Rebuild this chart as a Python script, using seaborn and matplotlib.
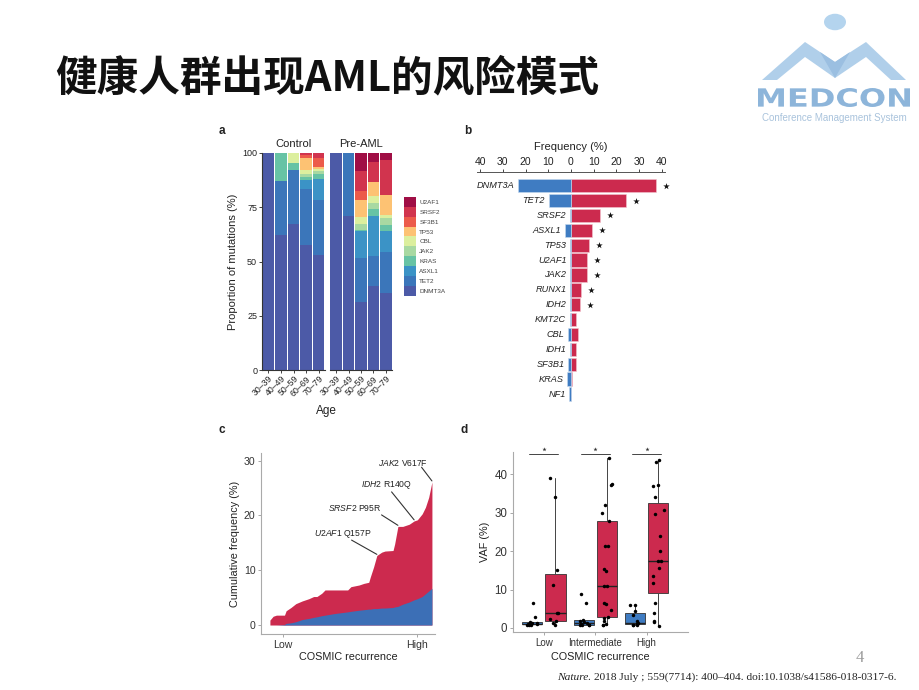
import numpy as np
import pandas as pd
import matplotlib
matplotlib.use('Agg')
import matplotlib.pyplot as plt
import seaborn as sns
from matplotlib.patches import Patch, PathPatch, Polygon, Circle
from matplotlib.textpath import TextPath
from matplotlib.font_manager import FontProperties
from matplotlib.transforms import Affine2D

# ---------------- data ----------------
# a: proportion of mutations by age group (%)
age_groups = ['30–39', '40–49', '50–59', '60–69', '70–79']
genes_a = ['DNMT3A', 'TET2', 'ASXL1', 'KRAS', 'JAK2', 'CBL', 'TP53', 'SF3B1', 'SRSF2', 'U2AF1']
gene_colors = ['#4c5aa7', '#3b76ba', '#3b93c6', '#67c3a5', '#a8d9a2', '#dcef9e',
               '#fdc273', '#ec5b4a', '#d1344e', '#a00e45']

ctrl_DNMT3A = [100, 62, 67.5, 57.5, 53]
ctrl_TET2 = [0, 25, 24.5, 26, 25.5]
ctrl_ASXL1 = [0, 0, 0, 4, 9.5]
ctrl_KRAS = [0, 13, 3.5, 1.5, 2.5]
ctrl_JAK2 = [0, 0, 0, 1.5, 1]
ctrl_CBL = [0, 0, 4.5, 1.5, 1]
ctrl_TP53 = [0, 0, 0, 5.7, 1]
ctrl_SF3B1 = [0, 0, 0, 1.2, 4.2]
ctrl_SRSF2 = [0, 0, 0, 1.1, 2.3]
ctrl_U2AF1 = [0, 0, 0, 0, 0]

pre_DNMT3A = [100, 71, 31.5, 38.5, 35.5]
pre_TET2 = [0, 29, 20, 14, 19]
pre_ASXL1 = [0, 0, 12.5, 18.5, 9.5]
pre_KRAS = [0, 0, 0.5, 3, 3]
pre_JAK2 = [0, 0, 3, 3, 3]
pre_CBL = [0, 0, 3, 3, 1.5]
pre_TP53 = [0, 0, 8, 6.5, 9]
pre_SF3B1 = [0, 0, 4, 0, 0]
pre_SRSF2 = [0, 0, 9, 9.5, 16.5]
pre_U2AF1 = [0, 0, 8.5, 4, 3]

# b: mutation frequency (%)
genes_b = ['DNMT3A', 'TET2', 'SRSF2', 'ASXL1', 'TP53', 'U2AF1', 'JAK2', 'RUNX1',
           'IDH2', 'KMT2C', 'CBL', 'IDH1', 'SF3B1', 'KRAS', 'NF1']
control_freq = [23.1, 9.8, 0.4, 2.7, 0.3, 0.3, 0.5, 0.3, 0.3, 0.5, 1.4, 0.3, 1.3, 1.7, 0.7]
preaml_freq = [37.5, 24.0, 12.7, 9.4, 7.8, 7.1, 7.1, 4.6, 4.0, 2.2, 3.0, 2.2, 2.3, 0.6, 0.0]
significant = [True] * 9 + [False] * 6

# c: cumulative frequency vs COSMIC recurrence rank
cosmic_rank = [0, 2, 4, 9, 10, 13, 16, 20, 24, 27, 29, 32, 34, 40, 48, 50, 55, 58, 61, 62,
               64, 66, 69, 71, 76, 77, 79, 82, 86, 89, 91, 94, 96, 98, 100]
cum_preaml = [0.9, 1.6, 1.8, 1.8, 2.6, 3.2, 3.9, 4.4, 4.8, 5.2, 5.2, 5.8, 6.4, 6.4, 6.4, 7.0,
              7.3, 7.6, 7.8, 8.8, 10.6, 12.7, 13.3, 13.5, 13.6, 14.8, 18.0, 18.0, 18.4, 19.0,
              19.2, 20.3, 21.5, 23.3, 26.1]
cum_control = [0.0, 0.0, 0.0, 0.1, 0.3, 0.4, 0.6, 1.0, 1.2, 1.4, 1.5, 1.7, 1.8, 2.1, 2.4, 2.5,
               2.7, 2.8, 2.9, 2.9, 3.0, 3.0, 3.1, 3.1, 3.2, 3.3, 3.4, 3.8, 4.2, 4.6, 4.8, 5.2,
               5.7, 6.2, 6.7]
# (gene, mutation, index in cosmic_rank, label right x, label y, leader start x, leader start y)
hotspots = [('U2AF1', 'Q157P', 21, 63, 16.7, 50.4, 15.5),
            ('SRSF2', 'P95R', 26, 69, 21.4, 68.9, 20.1),
            ('IDH2', 'R140Q', 29, 87.5, 25.5, 75.1, 24.3),
            ('JAK2', 'V617F', 34, 97, 29.6, 93.6, 28.8)]

# d: VAF (%) by COSMIC recurrence
recurrence = ['Low', 'Intermediate', 'High']
vaf_low_ctrl = [6.5, 2.8, 1.5, 1.3, 1.2, 1.1, 1.0, 0.9, 0.8, 0.7]
vaf_low_case = [38.9, 34.1, 15.1, 11.1, 3.9, 3.9, 2.4, 1.7, 1.2, 0.7]
vaf_int_ctrl = [8.9, 6.5, 2.2, 1.9, 1.5, 1.2, 1.1, 0.9, 0.8, 0.7, 0.7]
vaf_int_case = [44.1, 37.3, 37.1, 32.0, 29.8, 27.8, 21.3, 21.2, 15.3, 14.7, 10.8, 10.8,
                6.5, 6.3, 4.8, 2.9, 2.6, 1.9, 1.1, 0.9, 0.7]
vaf_high_ctrl = [6.0, 6.0, 4.3, 3.5, 1.7, 1.3, 1.1, 1.0, 0.9, 0.8, 0.7]
vaf_high_case = [43.6, 43.2, 37.1, 37.0, 34.0, 30.7, 29.5, 23.9, 19.9, 17.4, 17.3, 15.5,
                 13.4, 11.7, 6.5, 3.9, 1.7, 1.6, 0.6]

BLUE = '#3f7cc2'
RED = '#cc2a4e'
TXT = '#222222'

# ---------------- style ----------------
sns.set_style('white')
plt.rcParams['font.family'] = ['Liberation Sans', 'Noto Sans CJK SC', 'DejaVu Sans']
plt.rcParams['mathtext.fontset'] = 'custom'
plt.rcParams['mathtext.it'] = 'Liberation Sans:italic'
plt.rcParams['mathtext.rm'] = 'Liberation Sans'
np.random.seed(3)

W, H = 920, 690
fig = plt.figure(figsize=(9.2, 6.9), dpi=100)


def px_rect(x0, y0, x1, y1):
    # pixel box (origin top-left) -> figure fraction
    return [x0 / W, 1 - y1 / H, (x1 - x0) / W, (y1 - y0) / H]


def fxy(x, y):
    return x / W, 1 - y / H


# title
fig.text(*fxy(55, 78), '健康人群出现AML的风险模式', fontsize=30, fontweight='bold',
         family=['Noto Sans CJK SC', 'DejaVu Sans'], va='center', ha='left', color='#111111')

# logo (top right)
fig.add_artist(Circle(fxy(835, 22), 11 / W, transform=fig.transFigure,
                      facecolor='#b4d4ee', edgecolor='none'))
m_shape = [(762, 80), (805, 42), (835, 62), (866, 42), (906, 80),
           (891, 80), (866, 57), (835, 78), (805, 57), (777, 80)]
fig.add_artist(Polygon([fxy(x, y) for x, y in m_shape], closed=True, transform=fig.transFigure,
                       facecolor='#b0cfea', edgecolor='none'))
fig.add_artist(Polygon([fxy(x, y) for x, y in [(820, 52), (835, 62), (850, 52), (835, 78)]],
                       closed=True, transform=fig.transFigure, facecolor='#9bbfe1', edgecolor='none'))
tp = TextPath((0, 0), 'MEDCON', size=1, prop=FontProperties(family='DejaVu Sans', weight='bold'))
ext = tp.get_extents()
logo_tr = (Affine2D().translate(-ext.x0, -ext.y0)
           .scale(152 / ext.width / W, 19 / ext.height / H)
           .translate(758 / W, 1 - 107 / H) + fig.transFigure)
fig.add_artist(PathPatch(tp, transform=logo_tr, facecolor='#8db5da', edgecolor='none'))
fig.text(*fxy(834, 118), 'Conference Management System', fontsize=7, color='#a9c3dc',
         ha='center', va='center')

# panel letters
for lab, (x, y) in zip('abcd', [(222, 131), (468, 131), (222, 430), (464, 430)]):
    fig.text(*fxy(x, y), lab, fontsize=8.5, fontweight='bold', ha='center', va='center', color=TXT)

# ---------------- panel a ----------------
def stack_frame(cols):
    rows = []
    for gene, vals in zip(genes_a, cols):
        for age, v in zip(age_groups, vals):
            rows.append((age, gene, v))
    return pd.DataFrame(rows, columns=['age', 'gene', 'pct'])


ctrl_df = stack_frame([ctrl_DNMT3A, ctrl_TET2, ctrl_ASXL1, ctrl_KRAS, ctrl_JAK2,
                       ctrl_CBL, ctrl_TP53, ctrl_SF3B1, ctrl_SRSF2, ctrl_U2AF1])
pre_df = stack_frame([pre_DNMT3A, pre_TET2, pre_ASXL1, pre_KRAS, pre_JAK2,
                      pre_CBL, pre_TP53, pre_SF3B1, pre_SRSF2, pre_U2AF1])
palette = dict(zip(genes_a, gene_colors))

ax_a1 = fig.add_axes(px_rect(262, 153, 325, 370))
ax_a2 = fig.add_axes(px_rect(330, 153, 392, 370))
for ax, df, title in [(ax_a1, ctrl_df, 'Control'), (ax_a2, pre_df, 'Pre-AML')]:
    sns.histplot(data=df, x='age', hue='gene', weights='pct', multiple='stack',
                 discrete=True, shrink=0.92, hue_order=genes_a[::-1], palette=palette,
                 alpha=1, linewidth=0, legend=False, ax=ax)
    ax.set_xlim(-0.5, 4.5)
    ax.set_ylim(0, 100)
    ax.set_title(title, fontsize=8, pad=4, color=TXT)
    ax.set_xlabel('')
    ax.set_ylabel('')
    ax.set_xticks(range(len(age_groups)))
    ax.set_xticklabels(age_groups, rotation=45, ha='right', rotation_mode='anchor', fontsize=6.3)
    ax.tick_params(axis='x', length=2, width=0.6, pad=1, bottom=True, colors=TXT)
    for s in ['top', 'right']:
        ax.spines[s].set_visible(False)
    ax.spines['bottom'].set_color('#333333')
    ax.spines['bottom'].set_linewidth(0.8)

ax_a1.spines['left'].set_color('#333333')
ax_a1.spines['left'].set_linewidth(0.8)
ax_a1.set_yticks([0, 25, 50, 75, 100])
ax_a1.tick_params(axis='y', labelsize=6.5, length=2, width=0.6, left=True, pad=1.5, colors=TXT)
ax_a1.set_ylabel('Proportion of mutations (%)', fontsize=8, color=TXT, labelpad=3)
ax_a2.spines['left'].set_visible(False)
ax_a2.set_yticks([])
fig.text(*fxy(326, 411), 'Age', fontsize=8.5, ha='center', va='center', color=TXT)

handles = [Patch(facecolor=palette[g], edgecolor='none', label=g) for g in genes_a[::-1]]
fig.legend(handles=handles, loc='upper left', bbox_to_anchor=fxy(404, 197), frameon=False,
           fontsize=4.6, handlelength=1.9, handleheight=2.0, labelspacing=0,
           handletextpad=0.5, borderpad=0, borderaxespad=0, labelcolor='#444444')

# ---------------- panel b ----------------
freq_df = pd.DataFrame({'gene': genes_b, 'control': control_freq,
                        'preaml': preaml_freq, 'sig': significant})
freq_df['control_neg'] = -freq_df['control']

ax_b = fig.add_axes(px_rect(476.6, 172.3, 665.4, 403))
sns.barplot(data=freq_df, y='gene', x='preaml', color=RED, saturation=1, width=0.9,
            orient='h', errorbar=None, linewidth=0.4, edgecolor='#f3c6d0', ax=ax_b)
sns.barplot(data=freq_df, y='gene', x='control_neg', color=BLUE, saturation=1, width=0.9,
            orient='h', errorbar=None, linewidth=0.4, edgecolor='#c7daf0', ax=ax_b)
sig_df = freq_df[freq_df['sig']]
sns.scatterplot(x=sig_df['preaml'] + 4.4, y=sig_df.index, marker='*', s=24,
                color='#111111', linewidth=0, ax=ax_b, clip_on=False)
for i, row in freq_df.iterrows():
    ax_b.text(-max(row['control'], 0.4) - 1.6, i, row['gene'], ha='right', va='center',
              style='italic', fontsize=6.6, color=TXT)
ax_b.set_xlim(-41.5, 41.5)
ax_b.set_ylim(14.6, -0.9)
ax_b.xaxis.tick_top()
ax_b.xaxis.set_label_position('top')
ticks_b = np.arange(-40, 41, 10)
ax_b.set_xticks(ticks_b)
ax_b.set_xticklabels([str(abs(t)) for t in ticks_b], fontsize=7.5, color=TXT)
ax_b.tick_params(axis='x', top=True, length=2, width=0.6, pad=1.5)
ax_b.set_yticks([])
ax_b.set_ylabel('')
ax_b.set_xlabel('Frequency (%)', fontsize=8, color=TXT, labelpad=5)
for s in ['bottom', 'left', 'right']:
    ax_b.spines[s].set_visible(False)
ax_b.spines['top'].set_color('#555555')
ax_b.spines['top'].set_linewidth(0.7)

# ---------------- panel c ----------------
ax_c = fig.add_axes(px_rect(261, 453, 435, 634))
ax_c.fill_between(cosmic_rank, 0, cum_preaml, color=RED, linewidth=0)
ax_c.fill_between(cosmic_rank, 0, cum_control, color='#3c6fb6', linewidth=0)
for gene, mut, idx, tx, ty, lx, ly in hotspots:
    ax_c.plot([lx, cosmic_rank[idx]], [ly, cum_preaml[idx] + 0.2], color='#333333', lw=0.8)
    ax_c.text(tx, ty, r'$\it{' + gene + '}$ ' + mut, ha='right', va='center',
              fontsize=6.2, color=TXT)
ax_c.set_xlim(-5.5, 101.9)
ax_c.set_ylim(-1.64, 31.4)
ax_c.set_yticks([0, 10, 20, 30])
ax_c.set_xticks([8, 90.7])
ax_c.set_xticklabels(['Low', 'High'])
ax_c.tick_params(labelsize=7.6, length=2, width=0.6, colors='#999999', labelcolor='#333333',
                 left=True, bottom=True, pad=2)
ax_c.set_ylabel('Cumulative frequency (%)', fontsize=7.8, color=TXT, labelpad=3)
ax_c.set_xlabel('COSMIC recurrence', fontsize=7.8, color=TXT, labelpad=2)
for s in ['top', 'right']:
    ax_c.spines[s].set_visible(False)
for s in ['left', 'bottom']:
    ax_c.spines[s].set_color('#aaaaaa')
    ax_c.spines[s].set_linewidth(0.8)

# ---------------- panel d ----------------
ax_d = fig.add_axes(px_rect(513, 451.7, 687.7, 632))
pos = np.arange(len(recurrence))
off = 0.227
ctrl_sets = [vaf_low_ctrl, vaf_int_ctrl, vaf_high_ctrl]
case_sets = [vaf_low_case, vaf_int_case, vaf_high_case]
common = dict(widths=0.39, patch_artist=True, showfliers=False, manage_ticks=False,
              medianprops=dict(color='#222222', lw=1.0),
              whiskerprops=dict(color='#444444', lw=0.7),
              capprops=dict(lw=0))
ax_d.boxplot(ctrl_sets, positions=pos - off, whis=1.5,
             boxprops=dict(facecolor=BLUE, edgecolor='#333333', lw=0.6), **common)
ax_d.boxplot(case_sets, positions=pos + off, whis=(0, 100),
             boxprops=dict(facecolor=RED, edgecolor='#333333', lw=0.6), **common)

rows = []
for i in range(len(recurrence)):
    rows += [(pos[i] - off, v) for v in ctrl_sets[i]]
    rows += [(pos[i] + off, v) for v in case_sets[i]]
vaf_df = pd.DataFrame(rows, columns=['xpos', 'vaf'])
sns.stripplot(data=vaf_df, x='xpos', y='vaf', native_scale=True, jitter=0.25,
              color='black', size=2.5, linewidth=0, ax=ax_d, zorder=4)

for p in pos:
    ax_d.plot([p - 0.28, p + 0.28], [45.3, 45.3], color='#444444', lw=0.7, clip_on=False)
sns.scatterplot(x=pos, y=[46.6] * 3, marker='*', s=10, color='#333333', linewidth=0,
                ax=ax_d, clip_on=False)

ax_d.set_xlim(-0.6, 2.8)
ax_d.set_ylim(-1.04, 45.8)
ax_d.set_xticks(pos)
ax_d.set_xticklabels(recurrence)
ax_d.set_yticks([0, 10, 20, 30, 40])
ax_d.tick_params(axis='y', labelsize=8.3)
ax_d.tick_params(axis='x', labelsize=7.0)
ax_d.tick_params(length=2, width=0.6, colors='#999999', labelcolor='#333333',
                 left=True, bottom=True, pad=2)
ax_d.set_ylabel('VAF (%)', fontsize=7.8, color=TXT, labelpad=3)
ax_d.set_xlabel('COSMIC recurrence', fontsize=7.8, color=TXT, labelpad=3)
for s in ['top', 'right']:
    ax_d.spines[s].set_visible(False)
for s in ['left', 'bottom']:
    ax_d.spines[s].set_color('#aaaaaa')
    ax_d.spines[s].set_linewidth(0.8)

# ---------------- footer ----------------
fig.text(*fxy(860, 658), '4', fontsize=12, color='#9a9a9a', family='Liberation Serif',
         ha='center', va='center')
t_nat = fig.text(*fxy(557, 677), 'Nature.', fontsize=8.2, style='italic',
                 family='Liberation Serif', ha='left', va='center', color=TXT)
bb = t_nat.get_window_extent(fig.canvas.get_renderer())
fig.text((bb.x1 + 3) / W, 1 - 677 / H,
         '2018 July ; 559(7714): 400–404. doi:10.1038/s41586-018-0317-6.',
         fontsize=8.2, family='Liberation Serif', ha='left', va='center', color=TXT)

fig.savefig('out.png', dpi=100, facecolor='white')
